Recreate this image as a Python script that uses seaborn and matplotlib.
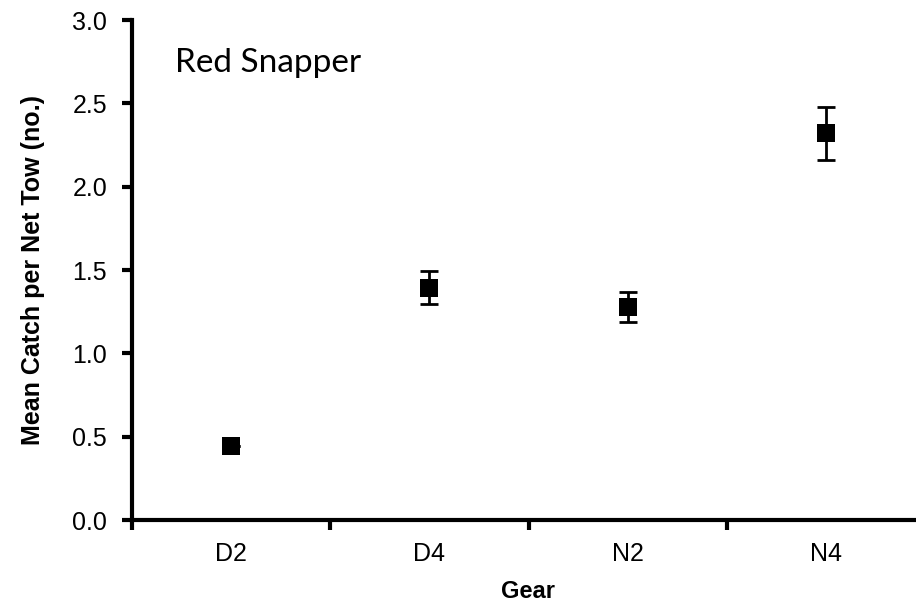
import numpy as np
import pandas as pd
import matplotlib
matplotlib.use("Agg")
import matplotlib.pyplot as plt
import seaborn as sns

# data
gears = ["D2", "D4", "N2", "N4"]
mean_catch = [0.445, 1.395, 1.28, 2.32]
err_catch = [0.0, 0.10, 0.09, 0.16]
y_ticks = [0.0, 0.5, 1.0, 1.5, 2.0, 2.5, 3.0]

df = pd.DataFrame({"Gear": gears, "Mean": mean_catch, "Err": err_catch})

sns.set_theme(style="white")
plt.rcParams["font.family"] = ["Liberation Sans", "DejaVu Sans"]
plt.rcParams["text.color"] = "black"
plt.rcParams["axes.labelcolor"] = "black"
plt.rcParams["xtick.color"] = "black"
plt.rcParams["ytick.color"] = "black"

fig = plt.figure(figsize=(9.16, 6.03), dpi=100)
ax = fig.add_axes([132 / 916, 83 / 603, 793 / 916, 500 / 603])

# error bars first, markers on top
ax.errorbar(df["Gear"], df["Mean"], yerr=df["Err"], fmt="none",
            ecolor="black", elinewidth=2, capsize=6.5, capthick=2, zorder=2)
sns.scatterplot(data=df, x="Gear", y="Mean", marker="s", s=175,
                color="black", edgecolor="black", linewidth=0, ax=ax, zorder=3)

ax.set_xlim(-0.5, 3.5)
ax.set_ylim(0, 3.0)
ax.set_yticks(y_ticks)
ax.set_yticklabels([f"{v:.1f}" for v in y_ticks], fontsize=18)

# ticks sit between the categories, labels sit at the categories
ax.set_xticks(np.arange(-0.5, 3.6, 1.0))
ax.set_xticklabels([])
ax.set_xticks(range(len(gears)), minor=True)
ax.set_xticklabels(gears, minor=True, fontsize=18)
ax.tick_params(axis="x", which="major", direction="out", length=7, width=3,
               color="black", bottom=True)
ax.tick_params(axis="x", which="minor", length=0, pad=16)
ax.tick_params(axis="y", direction="out", length=7, width=3, color="black",
               left=True, pad=11)

for side in ["top", "right"]:
    ax.spines[side].set_visible(False)
for side in ["left", "bottom"]:
    ax.spines[side].set_linewidth(3)
    ax.spines[side].set_color("black")

ax.set_xlabel("Gear", fontsize=17, fontweight="bold")
ax.set_ylabel("Mean Catch per Net Tow (no.)", fontsize=18, fontweight="bold")
ax.xaxis.set_label_coords(0.5, -0.12)
ax.yaxis.set_label_coords(-0.11, 0.5)

fig.text(175 / 916, 1 - 72 / 603, "Red Snapper", fontsize=24,
         family=["Lato", "DejaVu Sans"], va="baseline", ha="left")

fig.savefig("out.png", dpi=100)
